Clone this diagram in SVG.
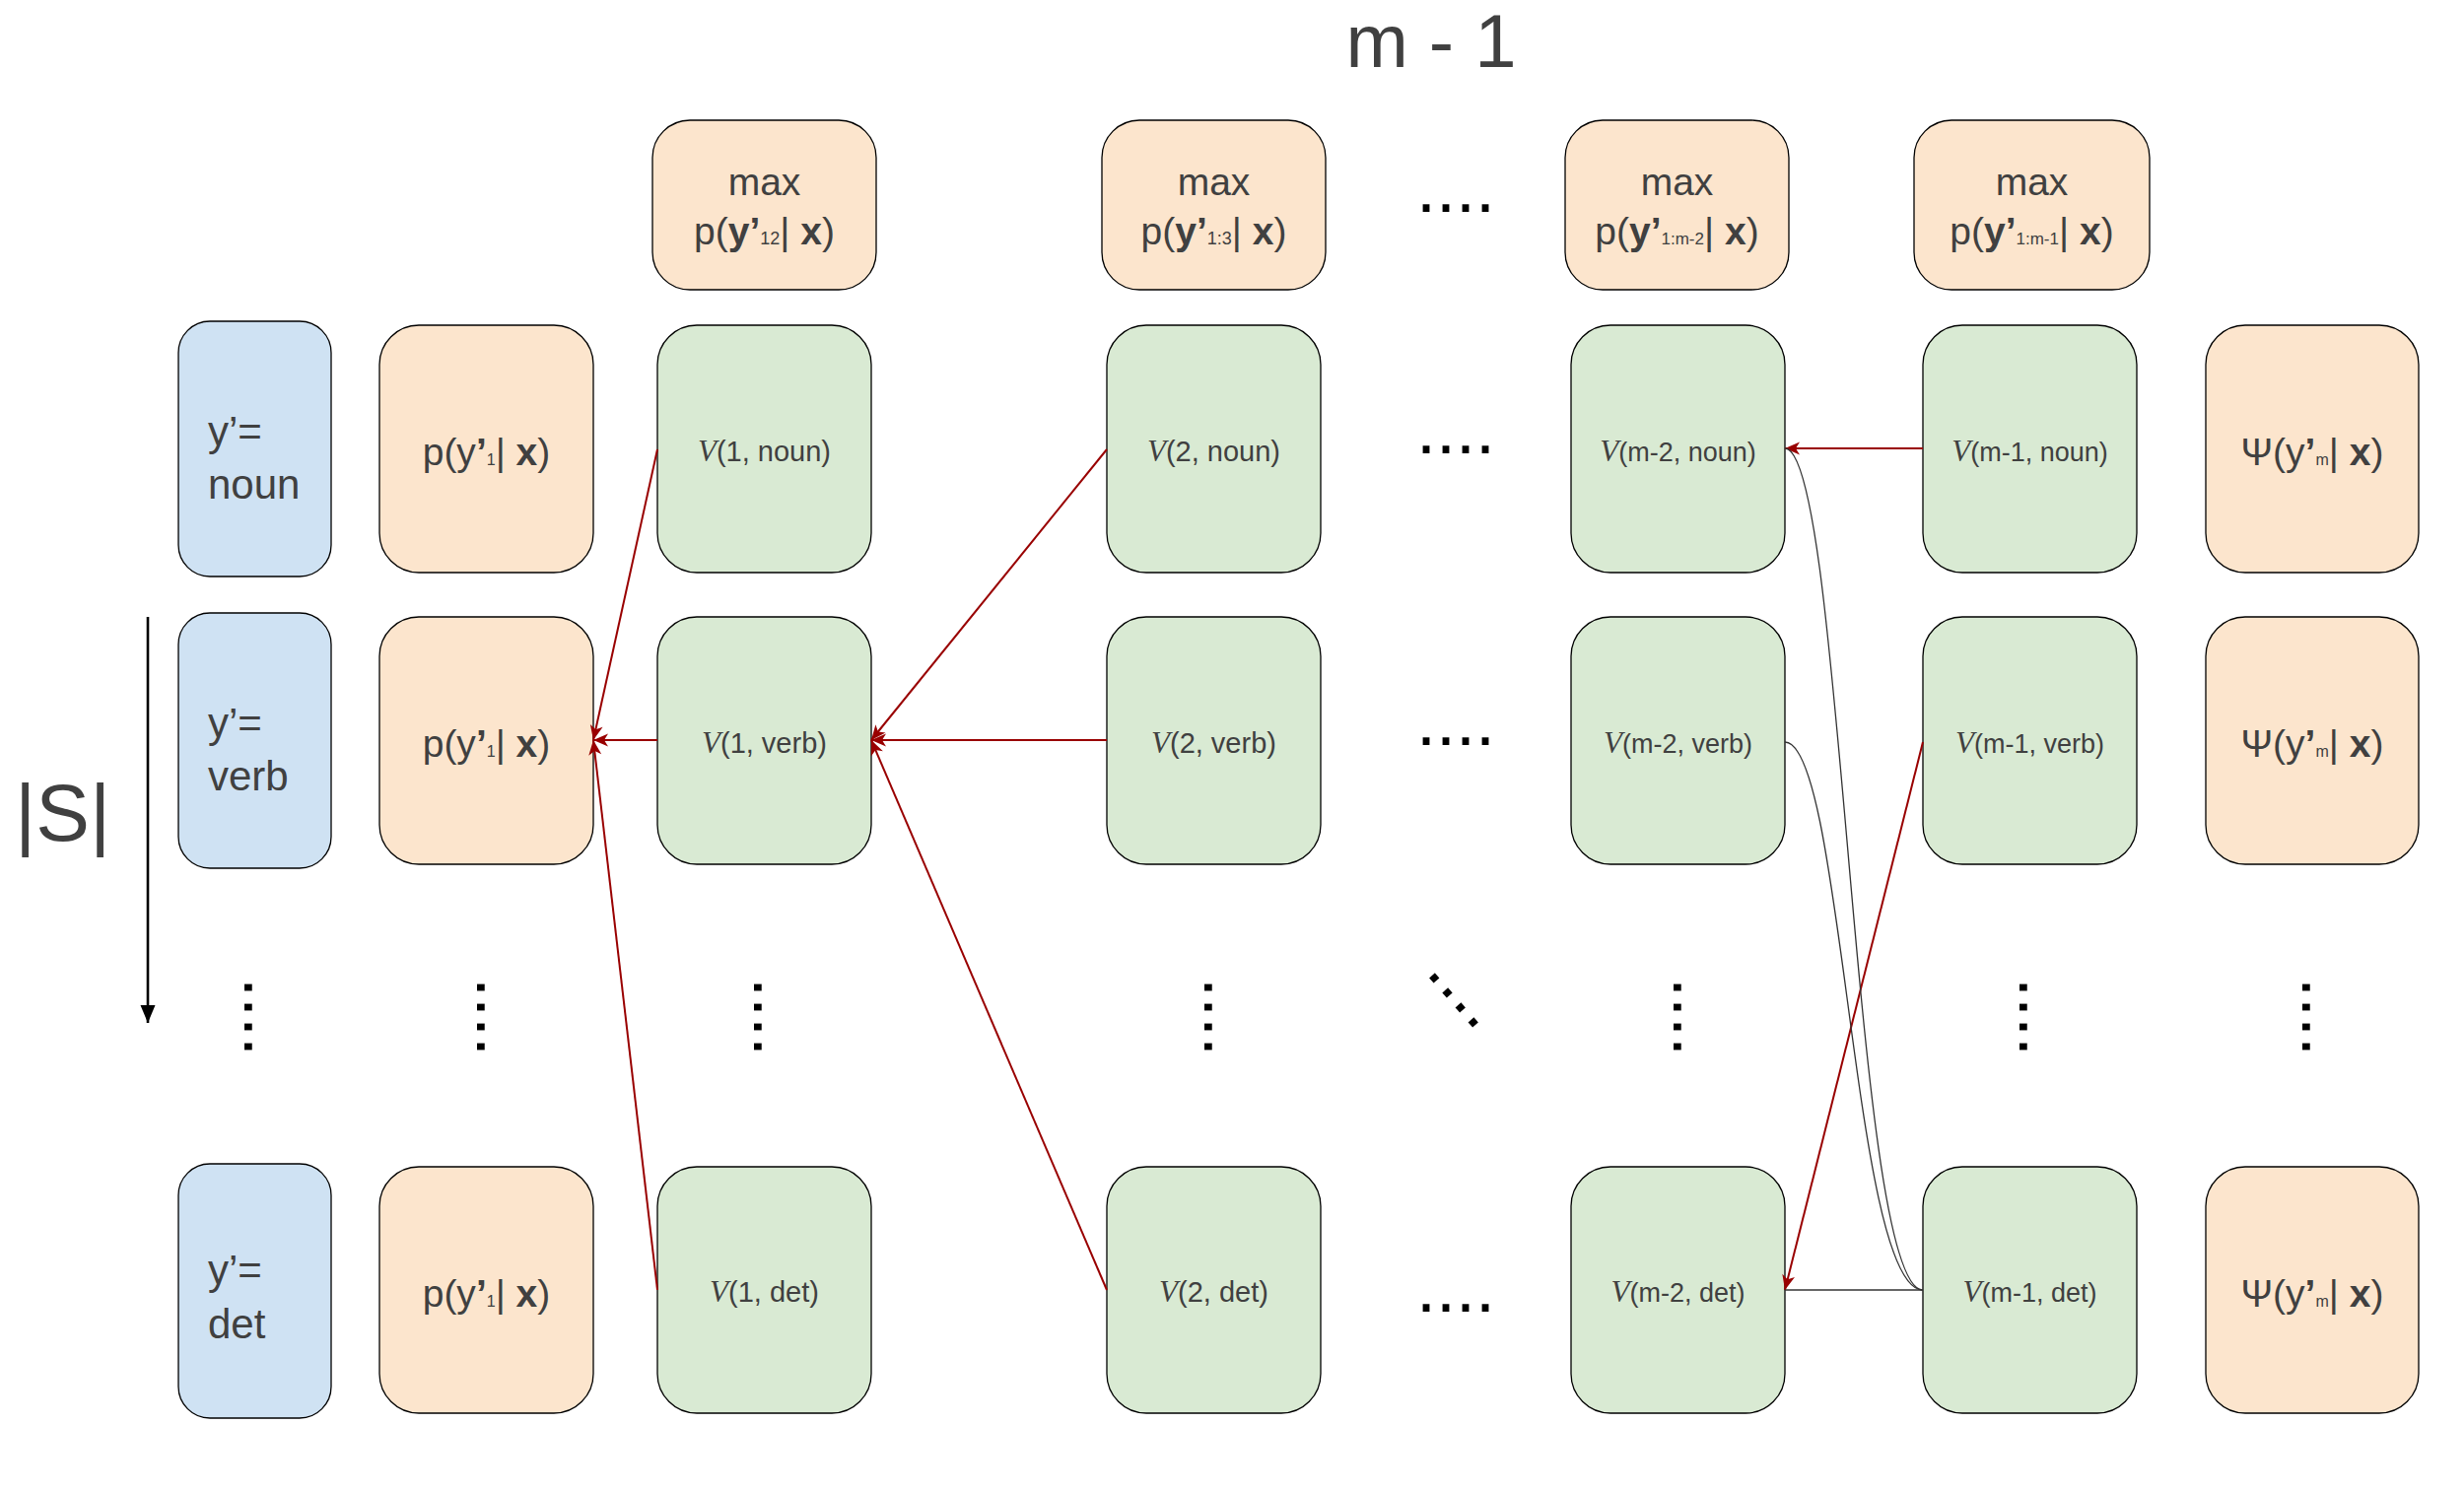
<svg xmlns="http://www.w3.org/2000/svg" width="2500" height="1514" viewBox="0 0 2500 1514">
<style>
.box{stroke:#000;stroke-width:1.3}
.blue{fill:#cfe2f3}
.org{fill:#fce5cd}
.grn{fill:#d9ead3}
text{font-family:"Liberation Sans",Arial,sans-serif;fill:#404040}
.lbl{font-size:42px}
.p{font-size:39px}
.vt{font-size:29px}
.vs{font-size:27px}
.vi{font-family:"Liberation Serif","Times New Roman",serif;font-style:italic;font-size:31px}
.dots{font-size:72px;fill:#000}
.red{stroke:#990000;stroke-width:2;fill:none;marker-end:url(#ar)}
.blk{stroke:#333;stroke-width:1.3;fill:none}
b{font-weight:bold}
</style>
<defs>
<marker id="ar" markerUnits="userSpaceOnUse" viewBox="-16 -8 18 16" refX="0" refY="0" markerWidth="18" markerHeight="16" orient="auto">
<path d="M0,0 L-15,-6.5 L-11,0 L-15,6.5 Z" fill="#990000"/>
</marker>
<marker id="ak" markerUnits="userSpaceOnUse" viewBox="-19 -9 20 18" refX="0" refY="0" markerWidth="20" markerHeight="18" orient="auto">
<path d="M0,0 L-18,-7.5 L-18,7.5 Z" fill="#000"/>
</marker>
</defs>
<rect width="2500" height="1514" fill="#fff"/>

<text id="title" x="1452" y="68" font-size="76" text-anchor="middle">m - 1</text>

<g id="size-axis">
<text x="15" y="853" font-size="82">|S|</text>
<line x1="150" y1="626" x2="150" y2="1038" stroke="#000" stroke-width="2.6" marker-end="url(#ak)"/>
</g>

<!-- blue label column -->
<g id="y-noun"><rect class="box blue" x="181" y="326" width="155" height="259" rx="32"/>
<text class="lbl" x="211" y="451.5">y’=</text><text class="lbl" x="211" y="505.5">noun</text></g>
<g id="y-verb"><rect class="box blue" x="181" y="622" width="155" height="259" rx="32"/>
<text class="lbl" x="211" y="747.5">y’=</text><text class="lbl" x="211" y="801.5">verb</text></g>
<g id="y-det"><rect class="box blue" x="181" y="1181" width="155" height="258" rx="32"/>
<text class="lbl" x="211" y="1303">y’=</text><text class="lbl" x="211" y="1358">det</text></g>

<!-- p column -->
<g id="p-noun"><rect class="box org" x="385" y="330" width="217" height="251" rx="40"/>
<text class="p" x="493.5" y="471.5" text-anchor="middle">p(y<tspan font-weight="bold">’</tspan><tspan font-size="16">1</tspan>| <tspan font-weight="bold">x</tspan>)</text></g>
<g id="p-verb"><rect class="box org" x="385" y="626" width="217" height="251" rx="40"/>
<text class="p" x="493.5" y="767.5" text-anchor="middle">p(y<tspan font-weight="bold">’</tspan><tspan font-size="16">1</tspan>| <tspan font-weight="bold">x</tspan>)</text></g>
<g id="p-det"><rect class="box org" x="385" y="1184" width="217" height="250" rx="40"/>
<text class="p" x="493.5" y="1326" text-anchor="middle">p(y<tspan font-weight="bold">’</tspan><tspan font-size="16">1</tspan>| <tspan font-weight="bold">x</tspan>)</text></g>

<!-- max row -->
<g id="max-1"><rect class="box org" x="662" y="122" width="227" height="172" rx="38"/>
<text class="p" x="775.5" y="198" text-anchor="middle">max</text>
<text class="p" x="775.5" y="248" text-anchor="middle">p(<tspan font-weight="bold">y’</tspan><tspan font-size="18">12</tspan>| <tspan font-weight="bold">x</tspan>)</text></g>
<g id="max-2"><rect class="box org" x="1118" y="122" width="227" height="172" rx="38"/>
<text class="p" x="1231.5" y="198" text-anchor="middle">max</text>
<text class="p" x="1231.5" y="248" text-anchor="middle">p(<tspan font-weight="bold">y’</tspan><tspan font-size="18">1:3</tspan>| <tspan font-weight="bold">x</tspan>)</text></g>
<g id="max-3"><rect class="box org" x="1588" y="122" width="227" height="172" rx="38"/>
<text class="p" x="1701.5" y="198" text-anchor="middle">max</text>
<text class="p" x="1701.5" y="248" text-anchor="middle">p(<tspan font-weight="bold">y’</tspan><tspan font-size="17">1:m-2</tspan>| <tspan font-weight="bold">x</tspan>)</text></g>
<g id="max-4"><rect class="box org" x="1942" y="122" width="239" height="172" rx="38"/>
<text class="p" x="2061.5" y="198" text-anchor="middle">max</text>
<text class="p" x="2061.5" y="248" text-anchor="middle">p(<tspan font-weight="bold">y’</tspan><tspan font-size="17">1:m-1</tspan>| <tspan font-weight="bold">x</tspan>)</text></g>

<!-- V column 1 -->
<g id="v1-noun"><rect class="box grn" x="667" y="330" width="217" height="251" rx="40"/>
<text class="vt" x="775.5" y="467.5" text-anchor="middle"><tspan class="vi">V</tspan>(1, noun)</text></g>
<g id="v1-verb"><rect class="box grn" x="667" y="626" width="217" height="251" rx="40"/>
<text class="vt" x="775.5" y="763.5" text-anchor="middle"><tspan class="vi">V</tspan>(1, verb)</text></g>
<g id="v1-det"><rect class="box grn" x="667" y="1184" width="217" height="250" rx="40"/>
<text class="vt" x="775.5" y="1321" text-anchor="middle"><tspan class="vi">V</tspan>(1, det)</text></g>

<!-- V column 2 -->
<g id="v2-noun"><rect class="box grn" x="1123" y="330" width="217" height="251" rx="40"/>
<text class="vt" x="1231.5" y="467.5" text-anchor="middle"><tspan class="vi">V</tspan>(2, noun)</text></g>
<g id="v2-verb"><rect class="box grn" x="1123" y="626" width="217" height="251" rx="40"/>
<text class="vt" x="1231.5" y="763.5" text-anchor="middle"><tspan class="vi">V</tspan>(2, verb)</text></g>
<g id="v2-det"><rect class="box grn" x="1123" y="1184" width="217" height="250" rx="40"/>
<text class="vt" x="1231.5" y="1321" text-anchor="middle"><tspan class="vi">V</tspan>(2, det)</text></g>

<!-- V column m-2 -->
<g id="vm2-noun"><rect class="box grn" x="1594" y="330" width="217" height="251" rx="40"/>
<text class="vs" x="1702.5" y="467.5" text-anchor="middle"><tspan class="vi">V</tspan>(m-2, noun)</text></g>
<g id="vm2-verb"><rect class="box grn" x="1594" y="626" width="217" height="251" rx="40"/>
<text class="vs" x="1702.5" y="763.5" text-anchor="middle"><tspan class="vi">V</tspan>(m-2, verb)</text></g>
<g id="vm2-det"><rect class="box grn" x="1594" y="1184" width="217" height="250" rx="40"/>
<text class="vs" x="1702.5" y="1321" text-anchor="middle"><tspan class="vi">V</tspan>(m-2, det)</text></g>

<!-- V column m-1 -->
<g id="vm1-noun"><rect class="box grn" x="1951" y="330" width="217" height="251" rx="40"/>
<text class="vs" x="2059.5" y="467.5" text-anchor="middle"><tspan class="vi">V</tspan>(m-1, noun)</text></g>
<g id="vm1-verb"><rect class="box grn" x="1951" y="626" width="217" height="251" rx="40"/>
<text class="vs" x="2059.5" y="763.5" text-anchor="middle"><tspan class="vi">V</tspan>(m-1, verb)</text></g>
<g id="vm1-det"><rect class="box grn" x="1951" y="1184" width="217" height="250" rx="40"/>
<text class="vs" x="2059.5" y="1321" text-anchor="middle"><tspan class="vi">V</tspan>(m-1, det)</text></g>

<!-- Psi column -->
<g id="psi-noun"><rect class="box org" x="2238" y="330" width="216" height="251" rx="40"/>
<text class="p" x="2346" y="471.5" text-anchor="middle">Ψ(y<tspan font-weight="bold">’</tspan><tspan font-size="16">m</tspan>| <tspan font-weight="bold">x</tspan>)</text></g>
<g id="psi-verb"><rect class="box org" x="2238" y="626" width="216" height="251" rx="40"/>
<text class="p" x="2346" y="767.5" text-anchor="middle">Ψ(y<tspan font-weight="bold">’</tspan><tspan font-size="16">m</tspan>| <tspan font-weight="bold">x</tspan>)</text></g>
<g id="psi-det"><rect class="box org" x="2238" y="1184" width="216" height="250" rx="40"/>
<text class="p" x="2346" y="1326" text-anchor="middle">Ψ(y<tspan font-weight="bold">’</tspan><tspan font-size="16">m</tspan>| <tspan font-weight="bold">x</tspan>)</text></g>

<!-- ellipses -->
<g id="ellipses">
<text class="dots" x="1477" y="215" text-anchor="middle">....</text>
<text class="dots" x="1477" y="460" text-anchor="middle">....</text>
<text class="dots" x="1477" y="756" text-anchor="middle">....</text>
<text class="dots" x="1477" y="1331" text-anchor="middle">....</text>
<text class="dots" transform="translate(252,1032) rotate(90)" x="0" y="3.8" text-anchor="middle">....</text>
<text class="dots" transform="translate(488,1032) rotate(90)" x="0" y="3.8" text-anchor="middle">....</text>
<text class="dots" transform="translate(769,1032) rotate(90)" x="0" y="3.8" text-anchor="middle">....</text>
<text class="dots" transform="translate(1226,1032) rotate(90)" x="0" y="3.8" text-anchor="middle">....</text>
<text class="dots" transform="translate(1702,1032) rotate(90)" x="0" y="3.8" text-anchor="middle">....</text>
<text class="dots" transform="translate(2053,1032) rotate(90)" x="0" y="3.8" text-anchor="middle">....</text>
<text class="dots" transform="translate(2340,1032) rotate(90)" x="0" y="3.8" text-anchor="middle">....</text>
<text class="dots" transform="translate(1475,1015) rotate(48.7)" x="0" y="3.8" text-anchor="middle">....</text>
</g>

<g id="connectors">
<line class="red" x1="667" y1="456" x2="602" y2="751"/>
<line class="red" x1="667" y1="751" x2="602" y2="751"/>
<line class="red" x1="667" y1="1309" x2="602" y2="751"/>
<line class="red" x1="1123" y1="456" x2="884" y2="751"/>
<line class="red" x1="1123" y1="751" x2="884" y2="751"/>
<line class="red" x1="1123" y1="1309" x2="884" y2="751"/>
<line class="red" x1="1951" y1="455" x2="1811" y2="455"/>
<line class="red" x1="1951" y1="753" x2="1811" y2="1309"/>
<path class="blk" d="M1811,455 C1870,455 1880,1309 1951,1309"/>
<path class="blk" d="M1811,753 C1870,753 1880,1309 1951,1309"/>
<line class="blk" x1="1951" y1="1309" x2="1811" y2="1309"/>
</g>
</svg>
